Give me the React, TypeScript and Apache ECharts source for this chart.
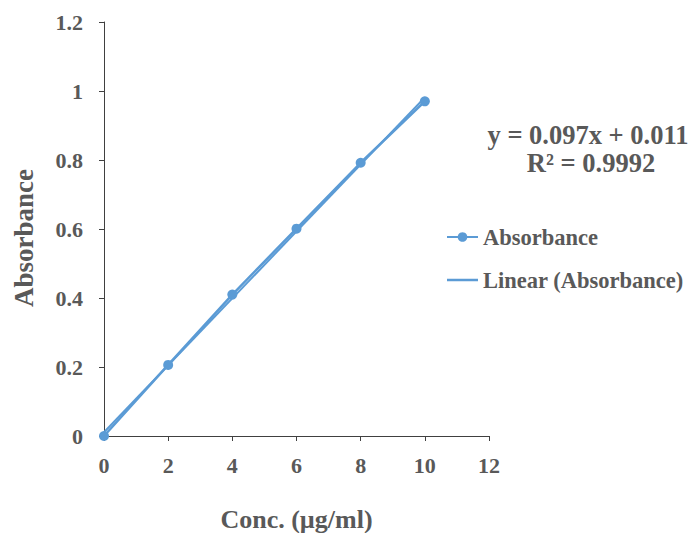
import React, { useEffect, useRef } from "react";
import * as echarts from "echarts";

const concentrations = [0, 2, 4, 6, 8, 10];
const absorbance = [0, 0.206, 0.41, 0.601, 0.792, 0.97];
const slope = 0.097;
const intercept = 0.011;
const equationLabel = "y = 0.097x + 0.011";
const r2Label = "R² = 0.9992";
const xTitle = "Conc. (µg/ml)";
const yTitle = "Absorbance";
const xTicks = { min: 0, max: 12, interval: 2 };
const yTicks = { min: 0, max: 1.2, interval: 0.2 };

const FONT = "'Liberation Serif', 'Times New Roman', serif";
const GRAY = "#595959";
const BLUE = "#5B9BD5";

export default function App() {
  const ref = useRef<HTMLDivElement>(null);
  useEffect(() => {
    if (!ref.current) return;
    const chart = echarts.init(ref.current, undefined, { renderer: "svg" });
    const dataPts = concentrations.map((x, i) => [x, absorbance[i]]);
    const x0 = concentrations[0];
    const x1 = concentrations[concentrations.length - 1];
    const trend = [
      [x0, slope * x0 + intercept],
      [x1, slope * x1 + intercept],
    ];
    chart.setOption({
      animation: false,
      backgroundColor: "#ffffff",
      grid: { left: 104, top: 22, width: 385, height: 414, containLabel: false, outerBoundsMode: "none" },
      legend: {
        orient: "vertical",
        left: 441,
        top: 220,
        itemWidth: 31,
        itemHeight: 12,
        itemGap: 19,
        textStyle: { fontFamily: FONT, fontWeight: "bold", fontSize: 22.5, lineHeight: 24, color: GRAY },
        data: [
          { name: "Absorbance" },
          { name: "Linear (Absorbance)", icon: "path://M0,5 L31,5 L31,7.5 L0,7.5 Z" },
        ],
      },
      xAxis: {
        type: "value",
        min: xTicks.min,
        max: xTicks.max,
        interval: xTicks.interval,
        name: xTitle,
        nameLocation: "middle",
        nameGap: 70,
        nameTextStyle: { fontFamily: FONT, fontWeight: "bold", fontSize: 26, color: GRAY },
        axisLine: { lineStyle: { color: "#404040", width: 1 } },
        axisTick: { show: true, length: 5, lineStyle: { color: "#404040" } },
        axisLabel: { fontFamily: FONT, fontWeight: "bold", fontSize: 22, color: GRAY, margin: 18 },
        splitLine: { show: false },
      },
      yAxis: {
        type: "value",
        min: yTicks.min,
        max: yTicks.max,
        interval: yTicks.interval,
        axisLine: { show: true, lineStyle: { color: "#404040", width: 1 } },
        axisTick: { show: true, length: 5, lineStyle: { color: "#404040" } },
        axisLabel: { fontFamily: FONT, fontWeight: "bold", fontSize: 22, color: GRAY, margin: 21 },
        splitLine: { show: false },
      },
      series: [
        {
          name: "Absorbance",
          type: "line",
          data: dataPts,
          symbol: "circle",
          symbolSize: 10,
          itemStyle: { color: BLUE },
          lineStyle: { color: BLUE, width: 2.5 },
          z: 3,
        },
        {
          name: "Linear (Absorbance)",
          type: "line",
          data: trend,
          symbol: "none",
          showSymbol: false,
          itemStyle: { color: BLUE },
          lineStyle: { color: BLUE, width: 2 },
          z: 2,
        },
      ],
      graphic: [
        {
          type: "text",
          x: 24,
          y: 238,
          rotation: Math.PI / 2,
          style: {
            text: yTitle, x: 0, y: 0, align: "center", verticalAlign: "middle",
            fontFamily: FONT, fontWeight: "bold", fontSize: 27, fill: GRAY,
          },
        },
        {
          type: "text",
          style: {
            text: equationLabel, x: 588, y: 135, align: "center", verticalAlign: "middle",
            fontFamily: FONT, fontWeight: "bold", fontSize: 26.5, fill: GRAY,
          },
        },
        {
          type: "text",
          style: {
            text: r2Label, x: 591, y: 163, align: "center", verticalAlign: "middle",
            fontFamily: FONT, fontWeight: "bold", fontSize: 26.5, fill: GRAY,
          },
        },
      ],
    });
    return () => chart.dispose();
  }, []);
  return (
    <div
      ref={ref}
      style={{ position: "fixed", left: 0, top: 0, width: 694, height: 533 }}
    />
  );
}
